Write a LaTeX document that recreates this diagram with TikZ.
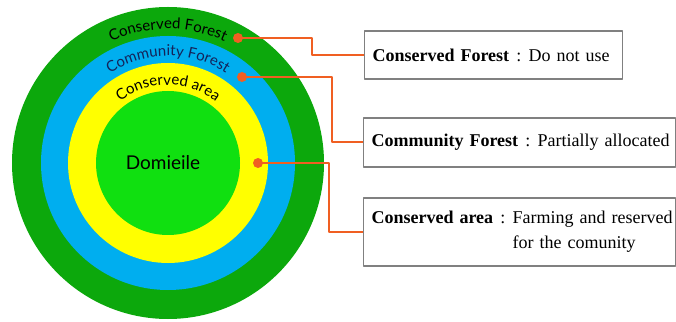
\documentclass[tikz,border=0pt]{standalone}
\usepackage{fontspec}
\setmainfont{Liberation Serif}
\newfontfamily\ringfont{Lato}
\usetikzlibrary{decorations.text,positioning}
\definecolor{forestouter}{RGB}{12,168,12}
\definecolor{communityblue}{RGB}{0,174,239}
\definecolor{areayellow}{RGB}{255,255,0}
\definecolor{domgreen}{RGB}{16,224,16}
\definecolor{leader}{RGB}{240,95,34}
\definecolor{boxgray}{RGB}{128,128,128}
\definecolor{navytext}{RGB}{20,35,90}
\newcommand\colonsep{\hspace{0.4em}:\hspace{0.4em}}

\begin{document}
\begin{tikzpicture}[x=1pt,y=1pt,line join=round,line cap=round]
	\tikzset{infobox/.style={draw=boxgray,line width=1.1pt,anchor=west,inner xsep=8pt,align=left,font=\fontsize{18}{25}\selectfont},
		leaderdot/.style={circle,fill=leader,inner sep=0pt,minimum size=10pt},
		leaderline/.style={draw=leader,line width=2pt,line cap=butt}}
	\useasboundingbox (0,0) rectangle (676,321);
	\coordinate (c) at (168,158);
	% rings
	\foreach \r/\col in {156/forestouter,127/communityblue,100/areayellow,72/domgreen}
	\fill[\col] (c) circle (\r);
	\path[decorate,decoration={text along path,text align=center,
		text={|\ringfont\fontsize{15}{15}\selectfont|Conserved Forest}}]
		(c) ++(160:134) arc[start angle=160,end angle=20,radius=134];
	\path[decorate,decoration={text along path,text align=center,
		text={|\ringfont\fontsize{15}{15}\selectfont\color{navytext}|Community Forest}}]
		(c) ++(160:107) arc[start angle=160,end angle=20,radius=107];
	\path[decorate,decoration={text along path,text align=center,
		text={|\ringfont\fontsize{15}{15}\selectfont|Conserved area}}]
		(c) ++(160:78) arc[start angle=160,end angle=20,radius=78];
	\node[font=\ringfont\fontsize{19}{19}\selectfont] (dom) at ([xshift=-5pt]c) {Domieile};
	% leaders
	\node[leaderdot] (d1) at (238,283) {};
	\node[leaderdot] (d2) at (242,244) {};
	\node[leaderdot] (d3) at (258,158) {};
	\node[infobox,text width=242pt,minimum height=48pt] (b1) at (364,266)
		{\mbox{\textbf{Conserved Forest}\colonsep Do not use}};
	\node[infobox,text width=296pt,minimum height=49pt] (b2) at (363,178.5)
		{\mbox{\textbf{Community Forest}\colonsep Partially allocated}};
	\node[infobox,text width=296pt,minimum height=68pt] (b3) at (363,89)
		{\mbox{\textbf{Conserved area}\colonsep Farming and reserved}\\
		\hphantom{\textbf{Conserved area}\colonsep}for the comunity};
	\draw[leaderline] (d1.center) -- ++(74,0) |- (b1.west);
	\draw[leaderline] (d2.center) -- ++(90,0) |- (b2.west);
	\draw[leaderline] (d3.center) -- ++(71,0) |- (b3.west);
\end{tikzpicture}
\end{document}
